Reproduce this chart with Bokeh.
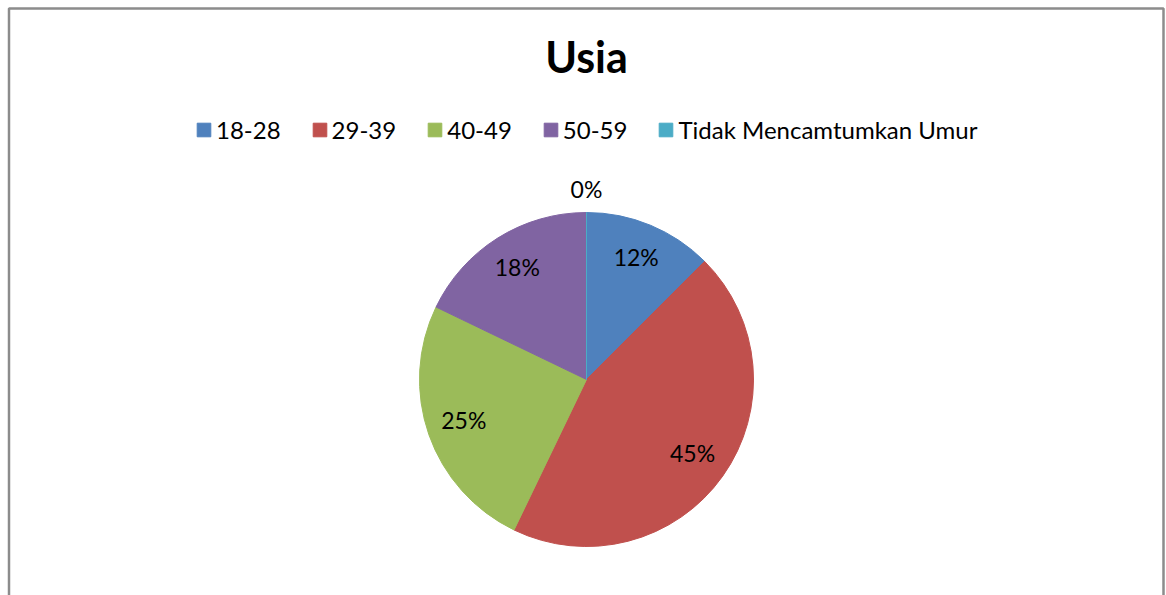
import numpy as np
from bokeh.plotting import figure
from bokeh.models import ColumnDataSource, Range1d, Legend, LegendItem
from bokeh.core.properties import value
from bokeh.embed import file_html
from bokeh.resources import INLINE

# ---- data ----
title = "Usia"
categories = ["18-28", "29-39", "40-49", "50-59", "Tidak Mencamtumkan Umur"]
counts = [7, 25, 14, 10, 0]
colors = ["#4F81BD", "#C0504D", "#9BBB59", "#8064A2", "#4BACC6"]

W, H = 1166, 595
FONT = "Lato"

p = figure(width=W, height=H, output_backend="svg", toolbar_location=None,
           x_range=Range1d(0, W), y_range=Range1d(0, H),
           min_border=0, min_border_left=0, min_border_right=0,
           min_border_top=0, min_border_bottom=0)
p.axis.visible = False
p.grid.visible = False
p.outline_line_color = None
p.background_fill_color = "white"
p.border_fill_color = "white"

# frame border (top, left, right; bottom runs off the page)
p.line([8.5, 8.5, 1163, 1163], [-5, H - 8, H - 8, -5], line_color="#8C8C8C", line_width=2.5)

# pie
cx, cy, R = 586, 216, 167
total = float(sum(counts))
frac = np.array(counts) / total
cum = np.concatenate([[0], np.cumsum(frac)])
start = np.pi / 2 - 2 * np.pi * cum[1:]
end = np.pi / 2 - 2 * np.pi * cum[:-1]
start = np.where(frac > 0, start, end - 1e-4)   # zero slice: hairline only
mid = (start + end) / 2
labels = ["%d%%" % round(f * 100) for f in frac]
lr = np.where(frac > 0, 130, 189)
lx = cx + lr * np.cos(mid)
ly = cy + lr * np.sin(mid) + 2

src = ColumnDataSource(dict(cat=categories, start=start, end=end, color=colors,
                            lx=lx, ly=ly, label=labels))
r = p.wedge(x=cx, y=cy, radius=R, start_angle="start", end_angle="end",
            fill_color="color", line_color="color", line_width=1, source=src)
p.text(x="lx", y="ly", text="label", source=src, text_align="center",
       text_baseline="middle", text_font=value(FONT), text_font_size="23px",
       text_color="black")

# title
p.text(x=[cx], y=[H - 56], text=[title], text_align="center", text_baseline="middle",
       text_font=value(FONT), text_font_size="43px", text_font_style="bold",
       text_color="black")

items = [LegendItem(label=c, renderers=[r], index=i) for i, c in enumerate(categories)]
legend = Legend(items=items, orientation="horizontal", location=(195, 451),
                glyph_width=17, glyph_height=17, label_standoff=4, spacing=30,
                padding=0, margin=0, border_line_color=None, background_fill_alpha=0,
                label_text_font=FONT, label_text_font_size="24px",
                label_text_color="black", label_height=20)
p.add_layout(legend, "center")

open("out.html", "w").write(file_html(p, INLINE))
